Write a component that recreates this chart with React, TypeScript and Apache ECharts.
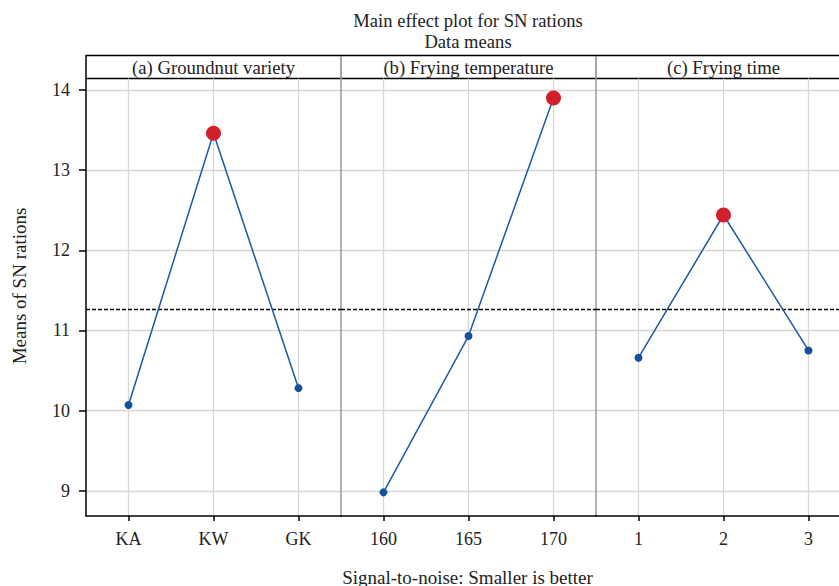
import React, { useEffect, useRef } from "react";
import * as echarts from "echarts";

const panelTitles = ["(a) Groundnut variety", "(b) Frying temperature", "(c) Frying time"];
const varietyCats = ["KA", "KW", "GK"];
const temperatureCats = ["160", "165", "170"];
const timeCats = ["1", "2", "3"];
const varietyMeans = [10.07, 13.46, 10.28];
const temperatureMeans = [8.98, 10.93, 13.9];
const timeMeans = [10.66, 12.44, 10.75];
const grandMean = 11.27;
const yTicks = [9, 10, 11, 12, 13, 14];
const xPositions = [1, 2, 3];

const FONT = "'Liberation Serif', 'Times New Roman', serif";
const FS = 18;
const TXT = "#222";
const LINE_BLUE = "#1c58a6";
const DOT_BLUE = "#15509e";
const RED = "#d11f2b";

const PLOT_TOP = 78.5;
const PLOT_BOTTOM = 516;
const PANEL_LEFT = [86, 341, 596];
const PANEL_W = 255;
const Y_MIN = 8.685;
const Y_MAX = 14.143;

export default function App() {
  const ref = useRef<HTMLDivElement>(null);
  useEffect(() => {
    if (!ref.current) return;
    const chart = echarts.init(ref.current, null, { renderer: "svg" });
    const groups = [
      { cats: varietyCats, vals: varietyMeans },
      { cats: temperatureCats, vals: temperatureMeans },
      { cats: timeCats, vals: timeMeans },
    ];
    const grids = PANEL_LEFT.map((l) => ({
      left: l,
      top: PLOT_TOP,
      width: PANEL_W,
      height: PLOT_BOTTOM - PLOT_TOP,
      containLabel: false,
    }));
    const xAxes = groups.map((g, i) => ({
      type: "value",
      gridIndex: i,
      min: 0.5,
      max: 3.5,
      axisLine: { show: true, onZero: false, lineStyle: { color: "#000", width: 1.5 } },
      axisTick: { show: true, length: 5, customValues: xPositions, lineStyle: { color: "#000", width: 1.5 } },
      axisLabel: {
        customValues: xPositions,
        margin: 14,
        color: TXT,
        fontFamily: FONT,
        fontSize: FS,
        formatter: (v: number) => g.cats[Math.round(v) - 1] ?? "",
      },
      splitLine: { show: true, lineStyle: { color: "#d6d6d6", width: 1.3 } },
    }));
    const yAxes = groups.map((_g, i) => ({
      type: "value",
      gridIndex: i,
      min: Y_MIN,
      max: Y_MAX,
      axisLine: {
        show: true,
        onZero: false,
        lineStyle: { color: i === 0 ? "#000" : "#9a9a9a", width: 1.5 },
      },
      axisTick: {
        show: i === 0,
        length: 7,
        customValues: yTicks,
        lineStyle: { color: "#000", width: 1.5 },
      },
      axisLabel: {
        show: i === 0,
        customValues: yTicks,
        margin: 16,
        color: TXT,
        fontFamily: FONT,
        fontSize: FS,
      },
      splitLine: { show: true, lineStyle: { color: "#d6d6d6", width: 1.3 } },
    }));
    const series = groups.map((g, i) => {
      let maxIdx = 0;
      g.vals.forEach((v, k) => {
        if (v > g.vals[maxIdx]) maxIdx = k;
      });
      return {
        type: "line",
        xAxisIndex: i,
        yAxisIndex: i,
        data: g.vals.map((v, k) =>
          k === maxIdx
            ? { value: [xPositions[k], v], symbolSize: 15, itemStyle: { color: RED } }
            : { value: [xPositions[k], v] }
        ),
        symbol: "circle",
        symbolSize: 8,
        showSymbol: true,
        itemStyle: { color: DOT_BLUE },
        lineStyle: { color: LINE_BLUE, width: 1.5 },
        z: 3,
        markLine: {
          silent: true,
          symbol: "none",
          label: { show: false },
          lineStyle: { color: "#000", type: [4, 2], width: 1.3 },
          data: [{ yAxis: grandMean }],
          z: 2,
        },
      };
    });
    const textStyle = (text: string, size: number) => ({
      text,
      fill: TXT,
      fontFamily: FONT,
      fontSize: size,
      align: "center",
      verticalAlign: "middle",
    });
    const graphic: any[] = [
      { type: "text", x: 468, y: 20, style: textStyle("Main effect plot for SN rations", 18.6) },
      { type: "text", x: 468, y: 41, style: textStyle("Data means", 18.6) },
      { type: "text", x: 467.5, y: 577, style: textStyle("Signal-to-noise: Smaller is better", 19) },
      { type: "text", x: 19, y: 286, rotation: Math.PI / 2, style: textStyle("Means of SN rations", 19) },
      { type: "line", shape: { x1: 86, y1: 55.5, x2: 870, y2: 55.5 }, style: { stroke: "#000", lineWidth: 1.5 } },
      { type: "line", shape: { x1: 86, y1: 78.5, x2: 870, y2: 78.5 }, style: { stroke: "#000", lineWidth: 1.5 } },
      { type: "line", shape: { x1: 86, y1: 55, x2: 86, y2: 79 }, style: { stroke: "#000", lineWidth: 1.5 } },
    ];
    PANEL_LEFT.forEach((l, i) => {
      graphic.push({ type: "text", x: l + PANEL_W / 2, y: 67, style: textStyle(panelTitles[i], 18.7) });
      if (i > 0) {
        graphic.push({ type: "line", shape: { x1: l, y1: 56, x2: l, y2: 78 }, style: { stroke: "#8a8a8a", lineWidth: 1.5 } });
      }
    });
    chart.setOption({
      animation: false,
      backgroundColor: "#fff",
      textStyle: { fontFamily: FONT },
      grid: grids,
      xAxis: xAxes,
      yAxis: yAxes,
      series,
      graphic,
    });
    return () => chart.dispose();
  }, []);
  return (
    <div style={{ position: "fixed", left: 0, top: 0, width: 839, height: 586, overflow: "hidden", background: "#fff" }}>
      <div ref={ref} style={{ position: "absolute", left: 0, top: 0, width: 870, height: 586 }} />
    </div>
  );
}
